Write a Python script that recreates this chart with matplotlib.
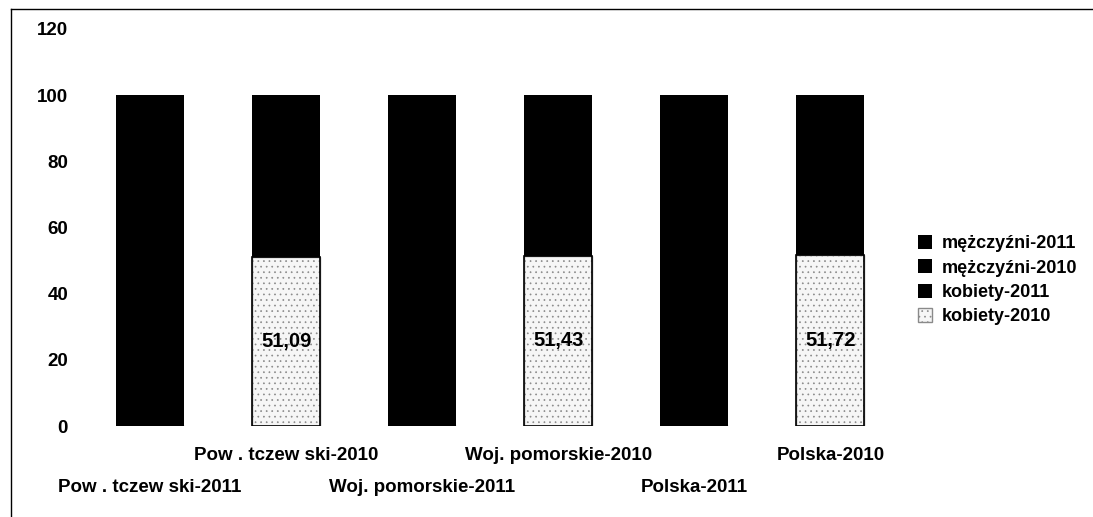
import matplotlib.pyplot as plt
from matplotlib.lines import Line2D
import numpy as np

plt.rcParams["font.family"] = ["Liberation Sans", "DejaVu Sans"]
plt.rcParams["hatch.linewidth"] = 0.5

categories = [
    "Pow . tczew ski-2011",
    "Pow . tczew ski-2010",
    "Woj. pomorskie-2011",
    "Woj. pomorskie-2010",
    "Polska-2011",
    "Polska-2010",
]
# 2011 bars are solid black in the source, so the women's share there is a guess
kobiety_2010 = [0, 51.09, 0, 51.43, 0, 51.72]
kobiety_2011 = [51.1, 0, 51.4, 0, 51.7, 0]
mezczyzni_2010 = [0, 48.91, 0, 48.57, 0, 48.28]
mezczyzni_2011 = [48.9, 0, 48.6, 0, 48.3, 0]
y_ticks = [0, 20, 40, 60, 80, 100, 120]

fig = plt.figure(figsize=(10.93, 5.17), dpi=100)
ax = fig.add_axes([0.075, 0.176, 0.747, 0.768])

x = np.arange(len(categories))
w = 0.5
k10 = np.array(kobiety_2010)
k11 = np.array(kobiety_2011)
m10 = np.array(mezczyzni_2010)
m11 = np.array(mezczyzni_2011)

b1 = ax.bar(x, k10, w, color="#f6f6f6", edgecolor="#8a8a8a", hatch="...",
            linewidth=1.0, label="kobiety-2010")
b2 = ax.bar(x, k11, w, bottom=k10, color="black", label="kobiety-2011")
b3 = ax.bar(x, m10, w, bottom=k10 + k11, color="black", label="mężczyźni-2010")
b4 = ax.bar(x, m11, w, bottom=k10 + k11 + m10, color="black", label="mężczyźni-2011")

# outline of the hatched segments and their value labels
for i, v in enumerate(kobiety_2010):
    if v > 0:
        ax.add_patch(plt.Rectangle((x[i] - w / 2, 0), w, v, fill=False,
                                   edgecolor="black", linewidth=1.2))
        ax.text(x[i], v / 2, f"{v:.2f}".replace(".", ","), ha="center", va="center",
                fontsize=14.5, fontweight="heavy")

ax.set_xlim(-0.5, len(categories) - 0.5)
ax.set_ylim(0, 120)
ax.set_yticks(y_ticks)
ax.set_yticklabels([str(t) for t in y_ticks], fontsize=13.5, fontweight="bold")
ax.set_xticks(x)
ax.set_xticklabels(categories, fontsize=13.5, fontweight="bold")
ax.tick_params(axis="both", length=0)
ax.tick_params(axis="y", pad=10)
for i, t in enumerate(ax.xaxis.get_major_ticks()):
    t.set_pad(38 if i % 2 == 0 else 15)
for s in ax.spines.values():
    s.set_visible(False)

handles = [b4, b3, b2, b1]
labels = ["mężczyźni-2011", "mężczyźni-2010", "kobiety-2011", "kobiety-2010"]
leg = fig.legend(handles, labels, loc="center left", bbox_to_anchor=(0.825, 0.458),
                 frameon=False, prop={"weight": "bold", "size": 13},
                 handlelength=0.8, handleheight=0.8, handletextpad=0.5,
                 labelspacing=0.4)

# frame around the picture
fig.add_artist(Line2D([0.010, 0.010], [0.0, 0.983], color="black", lw=1))
fig.add_artist(Line2D([0.010, 1.0], [0.983, 0.983], color="black", lw=1))

fig.savefig("out.png", dpi=100)
